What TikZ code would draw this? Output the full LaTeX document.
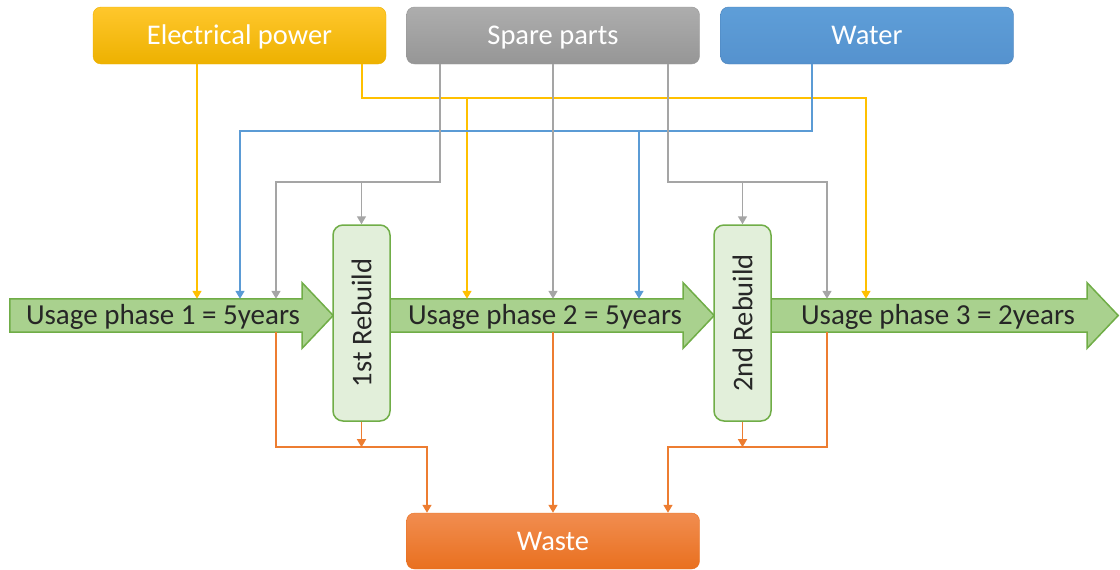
\documentclass[tikz,border=0pt]{standalone}
\usepackage{fontspec}
\setmainfont{Carlito}
\usetikzlibrary{arrows.meta,calc}

\definecolor{powerTop}{HTML}{FFC72C}
\definecolor{powerBot}{HTML}{EDB100}
\definecolor{partsTop}{HTML}{ADADAD}
\definecolor{partsBot}{HTML}{969696}
\definecolor{waterTop}{HTML}{5E9ED8}
\definecolor{waterBot}{HTML}{5592CE}
\definecolor{waterEdge}{HTML}{4A80B8}
\definecolor{wasteTop}{HTML}{F18D50}
\definecolor{wasteBot}{HTML}{E9701F}
\definecolor{lineYellow}{HTML}{FFC000}
\definecolor{lineBlue}{HTML}{5B9BD5}
\definecolor{lineGray}{HTML}{A5A5A5}
\definecolor{lineOrange}{HTML}{ED7D31}
\definecolor{phaseFill}{HTML}{A9D18E}
\definecolor{phaseEdge}{HTML}{70AD47}
\definecolor{rebuildFill}{HTML}{E2EFDA}

% outline of a phase arrow around its body node
\newcommand\phasearrow[1]{%
  \draw[phaseshape] (#1.south west) -- (#1.north west) -- (#1.north east)
    -- ++(0,-16) -- ($(#1.east)+(31,0)$) -- ($(#1.south east)+(0,16)$)
    -- (#1.south east) -- cycle;}

\begin{document}
\begin{tikzpicture}[x=1pt,y=-1pt,
  source/.style={rounded corners=8pt, minimum width=293pt, minimum height=57pt,
    inner sep=0pt, text=white, text height=20pt, text depth=1pt,
    font=\fontsize{28.5}{32}\selectfont},
  body/.style={minimum height=33pt, inner sep=0pt, draw=none},
  phaseshape/.style={fill=phaseFill, draw=phaseEdge, line width=1.5pt, line join=miter},
  phasetext/.style={inner sep=0pt, font=\fontsize{29}{32}\selectfont, text=black!85},
  rebuild/.style={rounded corners=10pt, minimum width=57pt, minimum height=196pt,
    inner sep=0pt, fill=rebuildFill, draw=phaseEdge, line width=1.5pt,
    font=\fontsize{28.5}{32}\selectfont, text=black!85},
  flow/.style={line width=1.5pt, -{Triangle[length=8pt,width=9pt]}},
  ye/.style={color=lineYellow},
  bl/.style={color=lineBlue},
  gr/.style={color=lineGray},
  orr/.style={color=lineOrange}]

\useasboundingbox (0,0) rectangle (1120,570);

% resource boxes
\node[source, top color=powerTop, bottom color=powerBot, draw=powerBot] (ep) at (239.5,35.5) {Electrical power};
\node[source, top color=partsTop, bottom color=partsBot, draw=partsBot] (sp) at (553,35.5) {Spare parts};
\node[source, top color=waterTop, bottom color=waterBot, draw=waterEdge] (wa) at (867,35.5) {Water};
\node[source, top color=wasteTop, bottom color=wasteBot, draw=wasteBot, minimum height=56pt] (ws) at (553,541) {Waste};

% phase arrows
\node[body, minimum width=292pt] (a1) at (156,315.5) {};
\node[body, minimum width=293pt] (a2) at (536.5,315.5) {};
\node[body, minimum width=316pt] (a3) at (929,315.5) {};
\phasearrow{a1}
\phasearrow{a2}
\phasearrow{a3}
\node[phasetext] (t1) at (163,317) {Usage phase 1 = 5years};
\node[phasetext] (t2) at (545,317) {Usage phase 2 = 5years};
\node[phasetext] (t3) at (938,317) {Usage phase 3 = 2years};

% rebuild steps
\node[rebuild] (r1) at (361.5,323) {\rotatebox{90}{1st Rebuild}};
\node[rebuild] (r2) at (742.5,323) {\rotatebox{90}{2nd Rebuild}};

% electrical power
\draw[flow, ye] ([xshift=-42.5]ep.south) -- ([xshift=-42.5]ep.south |- a1.north);
\draw[flow, ye] ([xshift=122.5]ep.south) -- ++(0,34) coordinate (yh) -| ([xshift=-63]a3.north);
\draw[flow, ye] ([xshift=-69.5]a2.north |- yh) -- ([xshift=-69.5]a2.north);

% water
\draw[flow, bl] ([xshift=-55]wa.south) -- ++(0,67) coordinate (bh) -| ([xshift=84]a1.north);
\draw[flow, bl] ([xshift=102.5]a2.north |- bh) -- ([xshift=102.5]a2.north);

% spare parts
\draw[flow, gr] ([xshift=-113]sp.south) -- ++(0,118) coordinate (gh1) -| ([xshift=120]a1.north);
\draw[flow, gr] (r1.north |- gh1) -- (r1.north);
\draw[flow, gr] (sp.south) -- (sp.south |- a2.north);
\draw[flow, gr] ([xshift=115]sp.south) -- ++(0,118) coordinate (gh2) -| ([xshift=-102]a3.north);
\draw[flow, gr] (r2.north |- gh2) -- (r2.north);

% waste
\draw[flow, orr] ([xshift=120]a1.south) -- ++(0,115) coordinate (oh1) -| ([xshift=-126]ws.north);
\draw[flow, orr] (r1.south) -- (r1.south |- oh1);
\draw[flow, orr] (a2.south -| ws.north) -- (ws.north);
\draw[flow, orr] ([xshift=-102]a3.south) -- ++(0,115) coordinate (oh2) -| ([xshift=115]ws.north);
\draw[flow, orr] (r2.south) -- (r2.south |- oh2);

\end{tikzpicture}
\end{document}
